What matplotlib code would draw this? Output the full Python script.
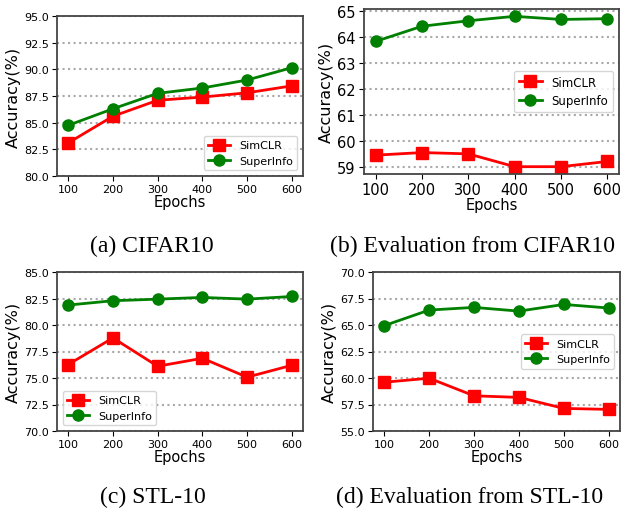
import matplotlib

matplotlib.use("Agg")
import matplotlib.pyplot as plt

epochs = [100, 200, 300, 400, 500, 600]

# (a) CIFAR10
cifar_simclr = [83.1, 85.6, 87.1, 87.4, 87.8, 88.45]
cifar_superinfo = [84.75, 86.3, 87.75, 88.25, 89.0, 90.15]
# (b) evaluation from CIFAR10
evcifar_simclr = [59.47, 59.57, 59.52, 59.03, 59.03, 59.23]
evcifar_superinfo = [63.82, 64.40, 64.61, 64.78, 64.66, 64.69]
# (c) STL-10
stl_simclr = [76.27, 78.78, 76.11, 76.86, 75.08, 76.2]
stl_superinfo = [81.88, 82.29, 82.44, 82.6, 82.44, 82.69]
# (d) evaluation from STL-10
evstl_simclr = [59.6, 59.98, 58.32, 58.17, 57.13, 57.04]
evstl_superinfo = [64.94, 66.41, 66.66, 66.31, 66.94, 66.6]

captions = ["(a) CIFAR10", "(b) Evaluation from CIFAR10",
            "(c) STL-10", "(d) Evaluation from STL-10"]

W, H = 623, 510


def box(l, t, r, b):
    return [l / W, 1 - b / H, (r - l) / W, (b - t) / H]


def panel(fig, rect, simclr, superinfo, ylim, yticks, legend_loc, fs=8, lfs=8):
    ax = fig.add_axes(rect)
    ax.plot(epochs, simclr, color="red", marker="s", ms=8, lw=2, label="SimCLR")
    ax.plot(epochs, superinfo, color="green", marker="o", ms=8, lw=2, label="SuperInfo")
    ax.set_ylim(*ylim)
    ax.set_yticks(yticks)
    ax.set_xticks(epochs)
    ax.tick_params(labelsize=fs, pad=2.5)
    ax.set_xlabel("Epochs", fontsize=10.5, labelpad=0)
    ax.set_ylabel("Accuracy(%)", fontsize=11.5, labelpad=2)
    ax.yaxis.grid(True, ls=":", lw=1.5, color="darkgray")
    for s in ax.spines.values():
        s.set_color("#444444")
        s.set_linewidth(1.3)
    ax.legend(loc=legend_loc, fontsize=lfs)
    return ax


fig = plt.figure(figsize=(W / 100, H / 100), dpi=100)

panel(fig, box(57, 17, 303, 177), cifar_simclr, cifar_superinfo,
      (80, 95), [80 + 2.5 * i for i in range(7)], "lower right")
panel(fig, box(364, 10, 619, 175), evcifar_simclr, evcifar_superinfo,
      (58.75, 65.06), [59, 60, 61, 62, 63, 64, 65], "center right", fs=10.5, lfs=8.5)
panel(fig, box(57, 273, 303, 432), stl_simclr, stl_superinfo,
      (70, 85), [70 + 2.5 * i for i in range(7)], "lower left")
panel(fig, box(373, 273, 620, 432), evstl_simclr, evstl_superinfo,
      (55, 70), [55 + 2.5 * i for i in range(7)], "center right")

cap_pos = [(152, 252), (472, 252), (153, 503), (470, 503)]
for text, (x, y) in zip(captions, cap_pos):
    fig.text(x / W, 1 - y / H, text, ha="center", va="baseline",
             family="Liberation Serif", fontsize=17)

fig.savefig("out.png", dpi=100)
